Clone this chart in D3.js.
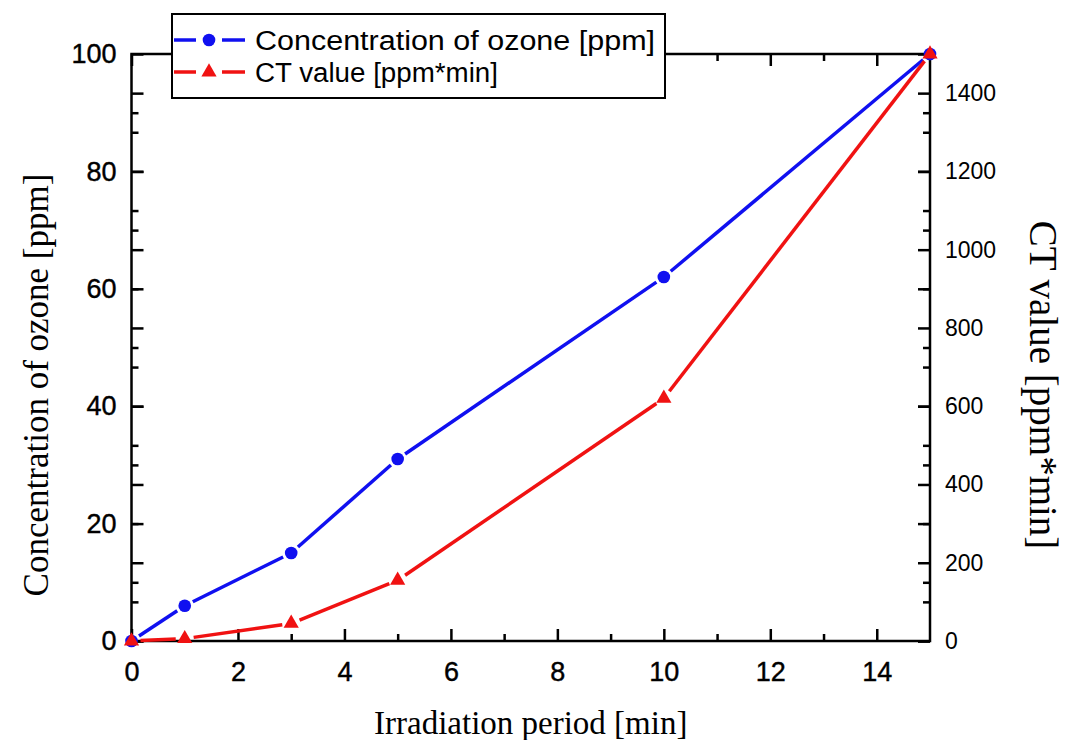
<!DOCTYPE html>
<html>
<head>
<meta charset="utf-8">
<script src="https://cdn.jsdelivr.net/npm/d3@7"></script>
<style>
  body { margin: 0; background: #fff; }
  svg text { fill: #000; }
</style>
</head>
<body>
<div id="chart"></div>
<script>
// data
var periods = [0, 1, 3, 5, 10, 15];            // irradiation period [min]
var ozone = [0, 6, 15, 31, 62, 100];           // concentration of ozone [ppm]
var ctValue = [0, 6, 45, 155, 620, 1500];      // CT value [ppm*min]
var seriesNames = ["Concentration of ozone [ppm]", "CT value [ppm*min]"];
var xTicks = [0, 2, 4, 6, 8, 10, 12, 14];
var yLeftTicks = [0, 20, 40, 60, 80, 100];
var yRightTicks = [0, 200, 400, 600, 800, 1000, 1200, 1400];

var w = 1069, h = 740;
var pLeft = 131.5, pRight = 930, pTop = 54, pBottom = 641;
var blue = "#1010f0", red = "#f01212";
var sans = "'Liberation Sans', Arial, sans-serif";
var serif = "'Liberation Serif', 'Times New Roman', serif";

var svg = d3.select("#chart").append("svg")
	.attr("width", w)
	.attr("height", h);

var x = d3.scaleLinear().domain([0, 15]).range([pLeft, pRight]);
var yL = d3.scaleLinear().domain([0, 100]).range([pBottom, pTop]);
var yR = d3.scaleLinear().domain([0, 1500]).range([pBottom, pTop]);

// minor ticks
var xMinor = d3.range(1, 15, 2);
var yLeftMinor = d3.range(10, 100, 20);
var yRightMinor = d3.range(100, 1500, 200);

function styleAxis(g) {
	g.select(".domain").remove();
	g.selectAll("line").attr("stroke", "#000").attr("stroke-width", 2.5);
	g.selectAll("text").attr("font-family", sans).attr("fill", "#000");
}

// bottom axis
svg.append("g").attr("transform", "translate(0," + pBottom + ")")
	.call(d3.axisBottom(x).tickValues(xTicks).tickSize(-12).tickPadding(21).tickFormat(d3.format("d")))
	.call(styleAxis)
	.selectAll("text").attr("font-size", 27).attr("stroke", "#000").attr("stroke-width", 0.4);
svg.append("g").attr("transform", "translate(0," + pBottom + ")")
	.call(d3.axisBottom(x).tickValues(xMinor).tickSize(-7).tickFormat(""))
	.call(styleAxis);
// top axis
svg.append("g").attr("transform", "translate(0," + pTop + ")")
	.call(d3.axisTop(x).tickValues(xTicks).tickSize(-12).tickFormat(""))
	.call(styleAxis);
svg.append("g").attr("transform", "translate(0," + pTop + ")")
	.call(d3.axisTop(x).tickValues(xMinor).tickSize(-7).tickFormat(""))
	.call(styleAxis);

// left axis: own ticks plus the right scale's ticks
svg.append("g").attr("transform", "translate(" + pLeft + ",0)")
	.call(d3.axisLeft(yL).tickValues(yLeftTicks).tickSize(-12).tickPadding(15).tickFormat(d3.format("d")))
	.call(styleAxis)
	.selectAll("text").attr("font-size", 27).attr("stroke", "#000").attr("stroke-width", 0.4);
svg.append("g").attr("transform", "translate(" + pLeft + ",0)")
	.call(d3.axisLeft(yL).tickValues(yLeftMinor).tickSize(-7).tickFormat(""))
	.call(styleAxis);
svg.append("g").attr("transform", "translate(" + pLeft + ",0)")
	.call(d3.axisLeft(yR).tickValues(yRightTicks).tickSize(-12).tickFormat(""))
	.call(styleAxis);
svg.append("g").attr("transform", "translate(" + pLeft + ",0)")
	.call(d3.axisLeft(yR).tickValues(yRightMinor).tickSize(-7).tickFormat(""))
	.call(styleAxis);

// right axis: own ticks plus the left scale's ticks
svg.append("g").attr("transform", "translate(" + pRight + ",0)")
	.call(d3.axisRight(yR).tickValues(yRightTicks).tickSize(-12).tickPadding(15).tickFormat(d3.format("d")))
	.call(styleAxis)
	.selectAll("text").attr("font-size", 23);
svg.append("g").attr("transform", "translate(" + pRight + ",0)")
	.call(d3.axisRight(yR).tickValues(yRightMinor).tickSize(-7).tickFormat(""))
	.call(styleAxis);
svg.append("g").attr("transform", "translate(" + pRight + ",0)")
	.call(d3.axisRight(yL).tickValues(yLeftTicks).tickSize(-12).tickFormat(""))
	.call(styleAxis);
svg.append("g").attr("transform", "translate(" + pRight + ",0)")
	.call(d3.axisRight(yL).tickValues(yLeftMinor).tickSize(-7).tickFormat(""))
	.call(styleAxis);

// frame
svg.append("rect")
	.attr("x", pLeft).attr("y", pTop)
	.attr("width", pRight - pLeft).attr("height", pBottom - pTop)
	.attr("fill", "none").attr("stroke", "#000").attr("stroke-width", 2.5);

// series: segments with a small gap at each marker
function drawSeries(values, yScale, color, marker) {
	var g = svg.append("g");
	var pts = periods.map(function(p, i) { return [x(p), yScale(values[i])]; });
	var gap = 9;
	for (var i = 0; i < pts.length - 1; i++) {
		var a = pts[i], b = pts[i + 1];
		var dx = b[0] - a[0], dy = b[1] - a[1];
		var len = Math.sqrt(dx * dx + dy * dy);
		if (len <= gap * 2) continue;
		var ux = dx / len, uy = dy / len;
		g.append("line")
			.attr("x1", a[0] + ux * gap).attr("y1", a[1] + uy * gap)
			.attr("x2", b[0] - ux * gap).attr("y2", b[1] - uy * gap)
			.attr("stroke", color).attr("stroke-width", 3.5);
	}
	g.selectAll("path.mk").data(pts).enter().append("path")
		.attr("class", "mk")
		.attr("transform", function(d) { return "translate(" + d[0] + "," + d[1] + ")"; })
		.attr("d", marker)
		.attr("fill", color);
}
var circle = d3.symbol().type(d3.symbolCircle).size(125)();
var tri = d3.symbol().type(d3.symbolTriangle).size(100)();
drawSeries(ozone, yL, blue, circle);
drawSeries(ctValue, yR, red, tri);

// legend
var legend = svg.append("g");
legend.append("rect")
	.attr("x", 172).attr("y", 14)
	.attr("width", 493).attr("height", 84)
	.attr("fill", "#fff").attr("stroke", "#000").attr("stroke-width", 2);
var legColors = [blue, red];
var legMarks = [circle, tri];
var legWidths = [400, 243];
seriesNames.forEach(function(name, i) {
	var cy = 40 + i * 32;
	var row = legend.append("g").attr("transform", "translate(0," + cy + ")");
	row.append("line").attr("x1", 174).attr("x2", 196).attr("y1", 0).attr("y2", 0)
		.attr("stroke", legColors[i]).attr("stroke-width", 3.5);
	row.append("line").attr("x1", 222).attr("x2", 245).attr("y1", 0).attr("y2", 0)
		.attr("stroke", legColors[i]).attr("stroke-width", 3.5);
	row.append("path").attr("transform", "translate(209,0)")
		.attr("d", legMarks[i]).attr("fill", legColors[i]);
	row.append("text").attr("x", 255).attr("y", 0).attr("dy", "0.36em")
		.attr("font-family", sans).attr("font-size", 27)
		.attr("textLength", legWidths[i]).attr("lengthAdjust", "spacingAndGlyphs")
		.text(name);
});

// axis titles
svg.append("text")
	.attr("x", (pLeft + pRight) / 2).attr("y", 734)
	.attr("text-anchor", "middle")
	.attr("font-family", serif).attr("font-size", 33)
	.text("Irradiation period [min]");
svg.append("text")
	.attr("transform", "translate(48,385) rotate(-90)")
	.attr("text-anchor", "middle")
	.attr("font-family", serif).attr("font-size", 35)
	.text("Concentration of ozone [ppm]");
svg.append("text")
	.attr("transform", "translate(1030,385) rotate(90)")
	.attr("text-anchor", "middle")
	.attr("font-family", serif).attr("font-size", 39)
	.text("CT value [ppm*min]");
</script>
</body>
</html>
